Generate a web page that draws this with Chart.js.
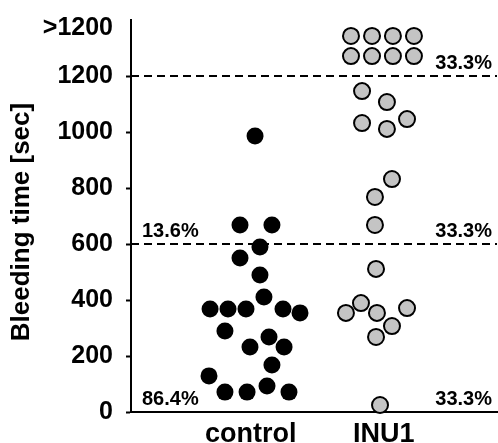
<!DOCTYPE html>
<html>
<head>
<meta charset="utf-8">
<script src="https://cdn.jsdelivr.net/npm/chart.js@4/dist/chart.umd.min.js"></script>
<style>
  html, body { margin: 0; padding: 0; background: #fff; }
</style>
</head>
<body>
<canvas id="bleedingChart" width="498" height="443"></canvas>
<script>
// Categories and tick labels
const categories = ["control", "INU1"];
const y_Ticks = [0, 200, 400, 600, 800, 1000, 1200, 1370];
const y_Tick_Labels = ["0", "200", "400", "600", "800", "1000", "1200", ">1200"];

// Control group (x = jittered position around category 1)
const control_X = [1.032, 0.919, 1.159, 1.069, 0.919, 1.069, 1.099, 0.694, 0.829, 0.964, 1.242,
                   1.370, 0.806, 1.137, 0.994, 1.250, 1.159, 0.686, 0.806, 0.972, 1.122, 1.287];
const control_Y = [986, 668, 668, 589, 550, 489, 411, 368, 368, 368, 368,
                   354, 289, 268, 232, 232, 168, 129, 71, 71, 93, 71];

// INU1 group (x = jittered position around category 2)
const inu1_X = [1.753, 1.911, 2.068, 2.226, 1.753, 1.911, 2.068, 2.226,
                1.836, 2.023, 1.836, 2.023, 2.174, 2.061, 1.933, 1.933,
                1.941, 1.715, 1.828, 1.948, 2.174, 2.061, 1.941, 1.971];
const inu1_Y = [1343, 1343, 1343, 1343, 1271, 1271, 1271, 1271,
                1146, 1107, 1032, 1011, 1046, 832, 768, 668,
                511, 354, 389, 354, 371, 307, 268, 25];

// Cut-off lines and percentages per band (bottom band first)
const cut_Offs = [600, 1200];
const control_Percents = ["86.4%", "13.6%"];
const inu1_Percents = ["33.3%", "33.3%", "33.3%"];

const FONT = "Arial, 'Liberation Sans', sans-serif";

function to_Points(xs, ys) {
    return xs.map((x, i) => ({ x: x, y: ys[i] }));
}

// stop chart.js from adding label overhang padding around the plot
function no_Scale_Padding(scale) {
    scale.paddingTop = 0;
    scale.paddingBottom = 0;
    scale.paddingLeft = 0;
    scale.paddingRight = 0;
}

// dashed cut-offs, axis title and percentages
const overlay_Plugin = {
    id: "overlay",
    beforeDatasetsDraw(chart) {
        const { ctx, chartArea, scales } = chart;
        ctx.save();
        ctx.strokeStyle = "#000";
        ctx.lineWidth = 2;
        ctx.setLineDash([8, 5]);
        cut_Offs.forEach((v) => {
            const y = Math.round(scales.y.getPixelForValue(v));
            ctx.beginPath();
            ctx.moveTo(chartArea.left, y);
            ctx.lineTo(chartArea.right, y);
            ctx.stroke();
        });
        ctx.restore();
    },
    afterDraw(chart) {
        const { ctx, chartArea, scales } = chart;
        ctx.save();
        ctx.fillStyle = "#000";

        // y axis title
        ctx.font = "bold 26px " + FONT;
        ctx.textAlign = "center";
        ctx.textBaseline = "middle";
        ctx.translate(22, (chartArea.top + chartArea.bottom) / 2 + 6);
        ctx.rotate(-Math.PI / 2);
        ctx.fillText("Bleeding time [sec]", 0, 0);
        ctx.setTransform(1, 0, 0, 1, 0, 0);

        // percentages, sitting just above each band's lower edge
        const band_Floors = [0].concat(cut_Offs);
        ctx.font = "bold 20px " + FONT;
        ctx.textBaseline = "alphabetic";
        ctx.textAlign = "left";
        control_Percents.forEach((t, i) => {
            ctx.fillText(t, chartArea.left + 11, scales.y.getPixelForValue(band_Floors[i]) - 7);
        });
        ctx.textAlign = "right";
        inu1_Percents.forEach((t, i) => {
            ctx.fillText(t, chartArea.right - 5, scales.y.getPixelForValue(band_Floors[i]) - 7);
        });
        ctx.restore();
    }
};

const ctx = document.getElementById("bleedingChart").getContext("2d");
new Chart(ctx, {
    type: "scatter",
    data: {
        datasets: [
            {
                label: categories[0],
                data: to_Points(control_X, control_Y),
                pointRadius: 8.5,
                pointBackgroundColor: "#000",
                pointBorderColor: "#000",
                pointBorderWidth: 0,
                pointHoverRadius: 8.5
            },
            {
                label: categories[1],
                data: to_Points(inu1_X, inu1_Y),
                pointRadius: 8,
                pointBackgroundColor: "#c4c4c4",
                pointBorderColor: "#000",
                pointBorderWidth: 2,
                pointHoverRadius: 8
            }
        ]
    },
    options: {
        responsive: false,
        animation: false,
        devicePixelRatio: 1,
        clip: false,
        layout: { autoPadding: false, padding: { top: 20, right: 1, left: 0, bottom: 0 } },
        plugins: {
            legend: { display: false },
            tooltip: { enabled: false }
        },
        events: [],
        scales: {
            x: {
                type: "linear",
                min: 0.1,
                max: 2.85,
                afterBuildTicks: (scale) => {
                    scale.ticks = [1, 2].map((v) => ({ value: v }));
                },
                afterFit: (scale) => { scale.height = 31; no_Scale_Padding(scale); },
                ticks: {
                    callback: (v, i) => categories[i],
                    color: "#000",
                    font: { family: FONT, size: 27, weight: "bold" },
                    padding: 6,
                    maxRotation: 0
                },
                grid: { display: false, drawTicks: false },
                border: { display: true, color: "#000", width: 2 }
            },
            y: {
                type: "linear",
                min: 0,
                max: 1400,
                afterBuildTicks: (scale) => {
                    scale.ticks = y_Ticks.map((v) => ({ value: v }));
                },
                afterFit: (scale) => { scale.width = 131; no_Scale_Padding(scale); },
                ticks: {
                    callback: (v, i) => y_Tick_Labels[i],
                    color: "#000",
                    font: { family: FONT, size: 25, weight: "bold" },
                    padding: 13
                },
                grid: {
                    drawOnChartArea: false,
                    tickLength: 5,
                    tickWidth: 2,
                    tickColor: (c) => (c.tick && c.tick.value > 1200 ? "rgba(0,0,0,0)" : "#000")
                },
                border: { display: true, color: "#000", width: 2 }
            }
        }
    },
    plugins: [overlay_Plugin]
});
</script>
</body>
</html>
